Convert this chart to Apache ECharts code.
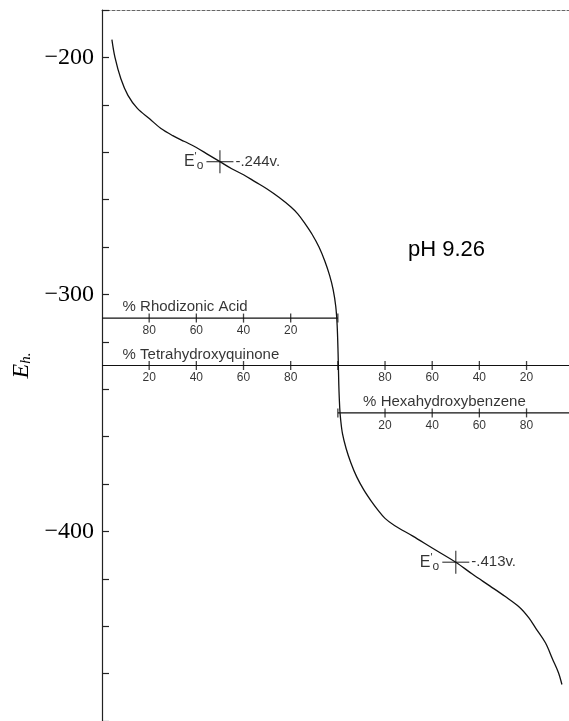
<!DOCTYPE html>
<html><head><meta charset="utf-8">
<script src="https://cdn.jsdelivr.net/npm/echarts@6/dist/echarts.min.js"></script>
<style>html,body{margin:0;padding:0;background:#fff}#c{width:569px;height:721px}</style>
</head><body><div id="c"></div>
<script>
// Titration curve (x: reduction equivalents 0..200, E in mV)
const curveX = [4.2, 5.5, 8, 11, 15, 20.3, 25, 30, 35, 40, 45, 50, 55, 60, 65, 70, 75, 80, 83, 86, 89, 92, 94.5, 96.5, 98, 99.1, 99.7, 100.1, 100.4, 100.8, 101.2, 102, 103.5, 105.5, 108, 111, 114, 117, 120, 124, 131.8, 140, 150, 157, 164.4, 171, 177, 181, 184, 188, 191, 193.5, 195];
const curveE = [-192.5, -200, -209, -216, -221.5, -226, -230, -233, -235.5, -238, -241, -244, -247, -249.5, -252.5, -255.5, -259, -263, -266, -270, -274.5, -280, -286, -292, -298, -305, -313, -325, -338, -348, -353, -359, -365, -371, -377, -382.5, -387, -391, -394.5, -397.5, -402, -407, -413, -418, -423, -427.5, -432, -436.5, -441, -447, -453.8, -459.5, -464.6];

// Y axis
const yLabelValues = [-200, -300, -400];

// Percentage scales
const scaleNames = ['% Rhodizonic Acid', '% Tetrahydroxyquinone', '% Hexahydroxybenzene'];
const scaleLevels = [-310, -330, -350];
const scaleStart = [0, 0, 100];
const scaleEnd = [100, 198, 198];
const scaleNameAt = [8.5, 8.5, 110.5];
const pctTicks = [20, 40, 60, 80];

// E'0 marks
const e0X = [50, 150];
const e0E = [-244, -413];
const e0Labels = ['-.244v.', '-.413v.'];

const ink = '#000';
const chart = echarts.init(document.getElementById('c'));

// tick points: [x, E, label]
const tickPts = [];
pctTicks.forEach(p => tickPts.push([100 - p, scaleLevels[0], p]));
pctTicks.forEach(p => tickPts.push([p, scaleLevels[1], p]));
pctTicks.forEach(p => tickPts.push([200 - p, scaleLevels[1], p]));
pctTicks.forEach(p => tickPts.push([100 + p, scaleLevels[2], p]));
const endTicks = scaleLevels.map(e => [100, e]);

const series = [];
series.push({
  type: 'line', data: curveX.map((x, i) => [x, curveE[i]]),
  showSymbol: false, smooth: 0.35, lineStyle: { color: '#111', width: 1.3 }, z: 5, silent: true
});
scaleLevels.forEach((e, i) => {
  series.push({
    type: 'line', data: [[scaleStart[i], e], [scaleEnd[i], e]],
    showSymbol: false, lineStyle: { color: '#111', width: 1.1 }, silent: true
  });
  series.push({
    type: 'scatter', data: [[scaleNameAt[i], e]], symbolSize: 1,
    itemStyle: { color: 'rgba(0,0,0,0)' },
    label: { show: true, position: 'right', distance: 0, offset: [0, -11], formatter: scaleNames[i],
      fontSize: 15, fontFamily: 'Liberation Sans', color: ink }
  });
});
series.push({
  type: 'scatter', data: tickPts, symbol: 'rect', symbolSize: [1.3, 9],
  itemStyle: { color: '#111' },
  label: { show: true, position: 'bottom', distance: 2, formatter: p => p.value[2],
    fontSize: 12, fontFamily: 'Liberation Sans', color: ink }
});
series.push({
  type: 'scatter', data: endTicks, symbol: 'rect', symbolSize: [1.3, 9], itemStyle: { color: '#111' }
});
// E'0 crosses
series.push({
  type: 'scatter', data: e0X.map((x, i) => [x, e0E[i], e0Labels[i]]), symbol: 'rect', symbolSize: [27, 1.2],
  itemStyle: { color: '#111' }, z: 6,
  label: { show: true, position: 'right', distance: 2, formatter: p => p.value[2],
    fontSize: 15, fontFamily: 'Liberation Sans', color: ink }
});
series.push({
  type: 'scatter', data: e0X.map((x, i) => [x, e0E[i]]), symbol: 'rect', symbolSize: [1.2, 23],
  itemStyle: { color: '#111' }, z: 6,
  label: { show: true, position: 'left', distance: 16, formatter: '{e|E}{p|\'}{s|o}',
    color: ink,
    rich: {
      e: { fontSize: 16, fontFamily: 'Liberation Sans', color: ink },
      p: { fontSize: 11, fontFamily: 'Liberation Sans', color: ink, verticalAlign: 'top', padding: [0, 0, 6, 0] },
      s: { fontSize: 12, fontFamily: 'Liberation Sans', color: ink, verticalAlign: 'bottom', padding: [8, 0, 0, 0] }
    } }
});

chart.setOption({
  animation: false,
  backgroundColor: '#fff',
  grid: { left: 102, top: 10, width: 467, height: 720 },
  xAxis: {
    type: 'value', min: 0, max: 198, position: 'top',
    axisLine: { show: true, onZero: false, lineStyle: { color: '#666', width: 1, type: [3, 2] } },
    axisTick: { show: false }, axisLabel: { show: false }, splitLine: { show: false }
  },
  yAxis: {
    type: 'value', min: -480, max: -180, interval: 20,
    axisLine: { show: true, onZero: false, lineStyle: { color: '#222', width: 1.2 } },
    axisTick: { show: true, inside: true, length: 7, lineStyle: { color: '#222', width: 1.2 } },
    axisLabel: { formatter: v => yLabelValues.includes(v) ? '\u2212' + Math.abs(v) : '',
      fontFamily: 'Liberation Serif', fontSize: 24, color: ink, margin: 8 },
    splitLine: { show: false },
    name: '{e|E}{h|h.}', nameLocation: 'middle', nameGap: 68,
    nameTextStyle: { rich: {
      e: { fontFamily: 'Liberation Serif', fontStyle: 'italic', fontSize: 24, color: ink },
      h: { fontFamily: 'Liberation Serif', fontStyle: 'italic', fontSize: 15, color: ink, verticalAlign: 'bottom', padding: [9, 0, 0, 0] }
    } }
  },
  graphic: [{ type: 'text', left: 408, top: 239, style: { text: 'pH 9.26', font: '22px "Liberation Sans"', fill: ink } }],
  series
});
</script></body></html>
